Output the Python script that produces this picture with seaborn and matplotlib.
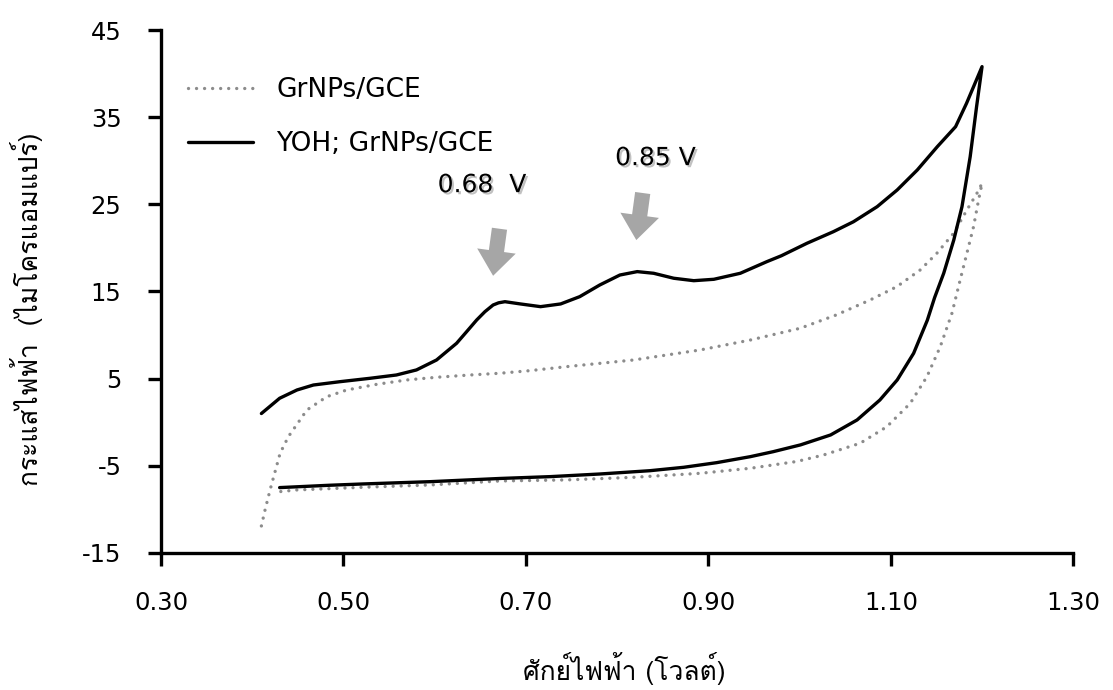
import numpy as np
import pandas as pd
import matplotlib
matplotlib.use("Agg")
import matplotlib.pyplot as plt
import matplotlib.patheffects as pe
from matplotlib import font_manager
from matplotlib.ft2font import FT2Font
import seaborn as sns

# Potential (V) and current (uA), forward then reverse sweep
yoh_x = [0.410, 0.430, 0.449, 0.467, 0.496, 0.529, 0.558, 0.580, 0.602, 0.613,
         0.624, 0.635, 0.646, 0.655, 0.664, 0.670, 0.677, 0.694, 0.716, 0.738,
         0.759, 0.781, 0.803, 0.822, 0.840, 0.862, 0.884, 0.906, 0.935, 0.964,
         0.980, 1.008, 1.037, 1.059, 1.085, 1.107, 1.129, 1.151, 1.171, 1.183,
         1.200,
         1.194, 1.187, 1.178, 1.169, 1.158, 1.148, 1.140, 1.125, 1.107, 1.088,
         1.063, 1.034, 1.001, 0.971, 0.946, 0.909, 0.873, 0.836, 0.781, 0.727,
         0.672, 0.595, 0.522, 0.485, 0.430]
yoh_y = [1.0, 2.75, 3.70, 4.27, 4.65, 5.04, 5.42, 6.0, 7.14, 8.1,
         9.06, 10.39, 11.73, 12.68, 13.45, 13.7, 13.83, 13.57, 13.26, 13.57,
         14.41, 15.75, 16.89, 17.28, 17.09, 16.52, 16.24, 16.40, 17.09, 18.42,
         19.1, 20.53, 21.86, 23.0, 24.73, 26.65, 28.94, 31.62, 33.91, 36.59,
         40.8,
         36.2, 30.47, 24.73, 20.9, 17.1, 14.3, 11.7, 7.91, 4.85, 2.55,
         0.26, -1.46, -2.6, -3.38, -3.95, -4.64, -5.17, -5.56, -5.94, -6.24,
         -6.45, -6.82, -7.08, -7.23, -7.5]

grnp_x = [0.410, 0.414, 0.4195, 0.425, 0.4305, 0.4396, 0.4506, 0.4598, 0.4817, 0.5036,
          0.5365, 0.5694, 0.6023, 0.6388, 0.6717, 0.7046, 0.7448, 0.8179, 0.891, 0.9463,
          1.0006, 1.040, 1.0774, 1.1067, 1.1322, 1.1505, 1.1688, 1.1834, 1.1944, 1.200,
          1.1962, 1.1907, 1.1834, 1.176, 1.167, 1.1542, 1.1396, 1.1213, 1.0957, 1.0664,
          1.0262, 0.997, 0.9463, 0.891, 0.8179, 0.7448, 0.6717, 0.595, 0.5218, 0.4488,
          0.4305, 0.4232]
grnp_y = [-11.9, -10.07, -7.77, -5.67, -3.56, -1.65, 0.0, 1.4, 2.93, 3.70,
          4.35, 4.85, 5.16, 5.42, 5.62, 5.92, 6.38, 7.14, 8.29, 9.44,
          10.78, 12.3, 14.03, 15.56, 17.47, 19.39, 21.68, 24.35, 26.27, 27.41,
          25.5, 22.44, 19.39, 16.32, 12.5, 8.67, 5.23, 2.17, -0.51, -2.41,
          -3.76, -4.5, -5.28, -5.86, -6.32, -6.62, -6.74, -7.2, -7.46, -7.77,
          -7.96, -8.08]

x_ticks = [0.30, 0.50, 0.70, 0.90, 1.10, 1.30]
y_ticks = [-15, -5, 5, 15, 25, 35, 45]

peak_labels = ["0.68  V", "0.85 V"]
peak_text_xy = [(0.652, 27.2), (0.842, 30.3)]
peak_arrow_tail = [(0.671, 22.2), (0.828, 26.3)]
peak_arrow_tip = [(0.664, 16.8), (0.821, 20.9)]

series_names = ["GrNPs/GCE", "YOH; GrNPs/GCE"]
x_title = "ศักย์ไฟฟ้า (โวลต์)"
y_title = "กระแสไฟฟ้า  (ไมโครแอมแปร์)"


def thai_family():
    for fe in font_manager.fontManager.ttflist:
        try:
            if FT2Font(fe.fname).get_char_index(ord("ก")):
                return fe.name
        except Exception:
            continue
    return None


sns.set_theme(style="ticks")
thai = thai_family()
families = ["DejaVu Sans"] + ([thai] if thai else [])
plt.rcParams["font.family"] = families
plt.rcParams["text.color"] = "black"
plt.rcParams["axes.labelcolor"] = "black"
thai_fam = [thai or "DejaVu Sans", "DejaVu Sans"]

fig = plt.figure(figsize=(11.13, 6.90), dpi=100)
ax = fig.add_axes([0.1447, 0.1986, 0.8196, 0.7579])

grnp = pd.DataFrame({"E": grnp_x, "I": grnp_y})
yoh = pd.DataFrame({"E": yoh_x, "I": yoh_y})

sns.lineplot(data=grnp, x="E", y="I", sort=False, estimator=None, ax=ax,
             color="#8c8c8c", linewidth=2.4, label=series_names[0],
             linestyle=(0, (0.01, 2.4)), dash_capstyle="round")
sns.lineplot(data=yoh, x="E", y="I", sort=False, estimator=None, ax=ax,
             color="black", linewidth=2.4, label=series_names[1])

ax.set_xlim(0.30, 1.30)
ax.set_ylim(-15, 45)
ax.set_xticks(x_ticks)
ax.set_xticklabels([f"{v:.2f}" for v in x_ticks])
ax.set_yticks(y_ticks)
ax.set_yticklabels([str(v) for v in y_ticks])

for s in ["top", "right"]:
    ax.spines[s].set_visible(False)
for s in ["left", "bottom"]:
    ax.spines[s].set_linewidth(2.4)
    ax.spines[s].set_color("black")
ax.tick_params(axis="both", direction="out", length=9.5, width=2.4,
               colors="black", labelsize=17.5)
ax.tick_params(axis="x", pad=18)
ax.tick_params(axis="y", pad=19)

ax.set_xlabel(x_title, fontsize=19, family=thai_fam, va="center", ha="center",
              color="black")
ax.xaxis.set_label_coords(0.508, -0.22)
ax.set_ylabel(y_title, fontsize=19, family=thai_fam, va="center", ha="center",
              color="black")
ax.yaxis.set_label_coords(-0.148, 0.465)

leg = ax.legend(loc="upper left", bbox_to_anchor=(0.03, 0.91), frameon=False,
                fontsize=19, handlelength=2.45, handletextpad=0.87,
                labelspacing=1.05, borderpad=0, borderaxespad=0)
for h in leg.get_lines():
    h.set_linewidth(2.4)
for t in leg.get_texts():
    t.set_color("black")

shadow = [pe.SimplePatchShadow(offset=(1.5, -1.5), shadow_rgbFace="#999999", alpha=0.6),
          pe.Normal()]
for lab, txy, tail, tip in zip(peak_labels, peak_text_xy, peak_arrow_tail, peak_arrow_tip):
    ax.text(txy[0], txy[1], lab, fontsize=18, ha="center", va="center",
            color="black", path_effects=shadow)
    ax.annotate("", xy=tip, xytext=tail,
                arrowprops=dict(arrowstyle="simple,head_width=1.4,head_length=0.9,tail_width=0.55",
                                color="#a6a6a6", lw=0, shrinkA=0, shrinkB=0,
                                mutation_scale=20))

fig.savefig("out.png", dpi=100, facecolor="white")
